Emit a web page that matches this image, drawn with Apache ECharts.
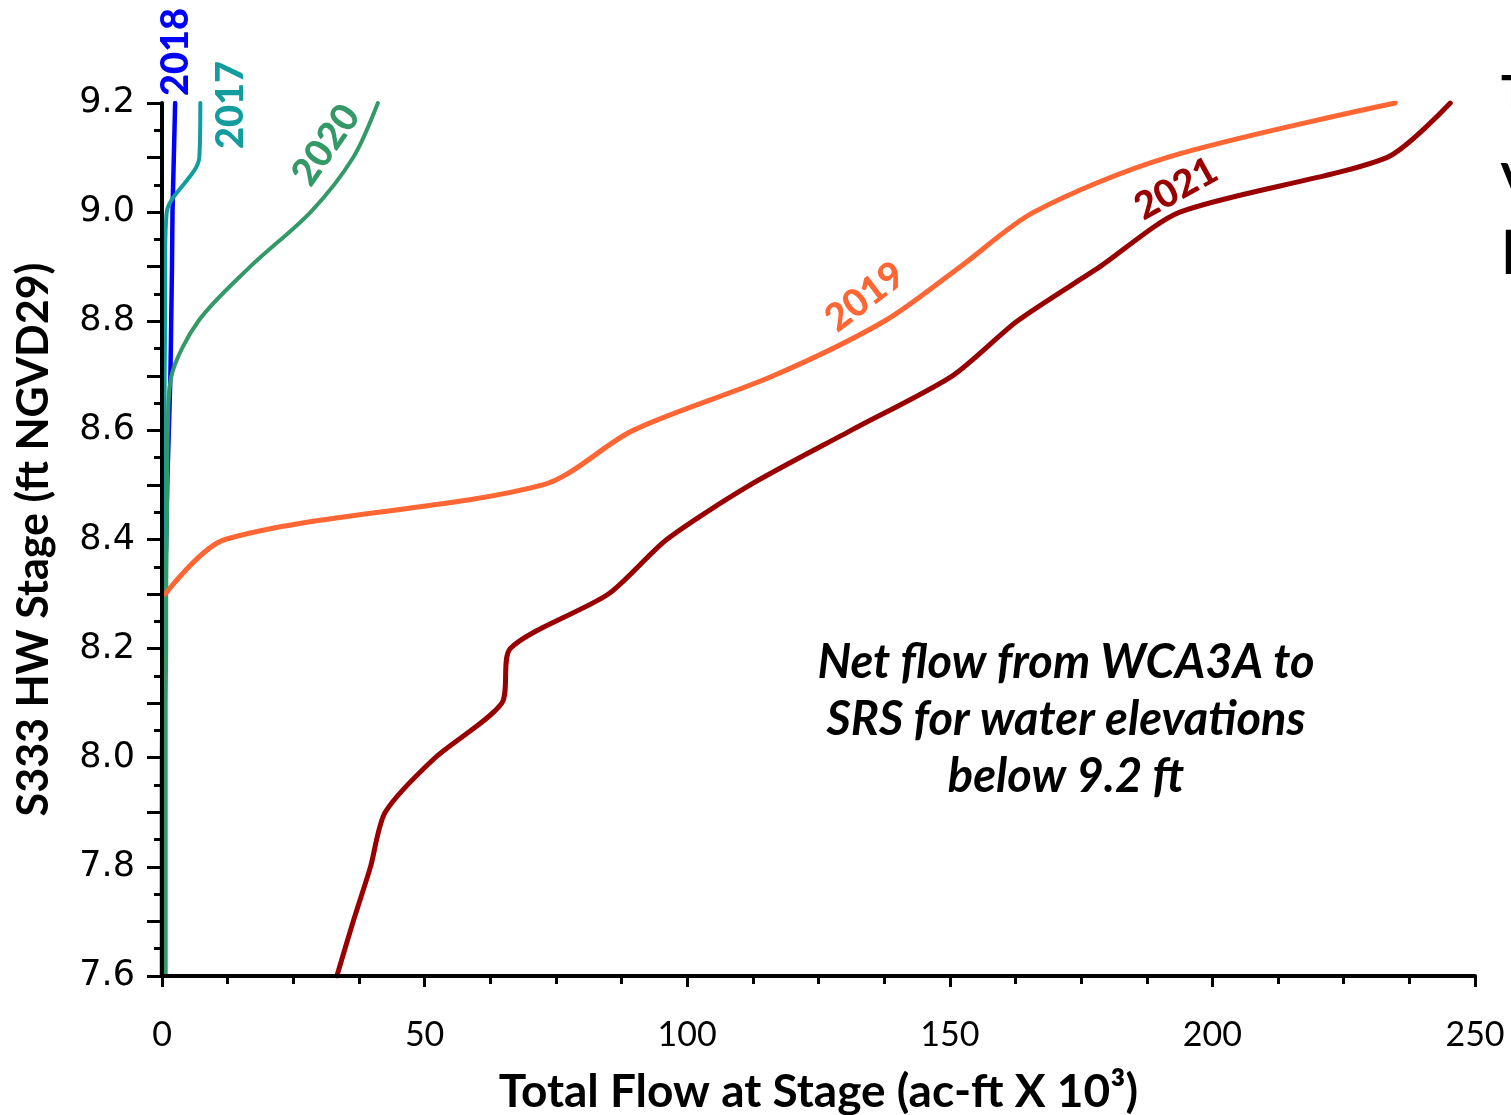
<!DOCTYPE html>
<html>
<head>
<meta charset="utf-8">
<script src="https://cdn.jsdelivr.net/npm/echarts@6/dist/echarts.min.js"></script>
<style>
html,body{margin:0;padding:0;background:#fff;}
#chart{width:1511px;height:1115px;}
</style>
</head>
<body>
<div id="chart"></div>
<script>
// Stage values (ft NGVD29)
const stages = [7.6, 7.7, 7.8, 7.9, 8.0, 8.1, 8.2, 8.3, 8.4, 8.5, 8.6, 8.7, 8.8, 8.9, 9.0, 9.1, 9.2];
// Total flow at stage (ac-ft x 10^3); null = no flow recorded on the curve
const flow2018 = [0, 0, 0, 0, 0, 0.1, 0.3, 0.5, 0.8, 1.0, 1.3, 1.6, 1.75, 1.9, 2.0, 2.25, 2.5];
const flow2017 = [0.4, 0.4, 0.4, 0.4, 0.4, 0.4, 0.5, 0.5, 0.5, 0.5, 0.5, 0.5, 0.6, 0.6, 0.9, 7.1, 7.3];
const flow2020 = [0.7, 0.7, 0.7, 0.7, 0.7, 0.7, 0.8, 0.8, 0.9, 1.0, 1.1, 1.8, 6.9, 16.8, 28.3, 36.4, 41.1];
const flow2019 = [null, null, null, null, null, null, null, 0.6, 12.0, 72.5, 89.7, 116.4, 137.5, 152.0, 166.0, 191.3, 234.8];
const flow2021 = [33.3, 36.4, 39.7, 42.5, 52.0, 64.7, 66.3, 85.0, 96.1, 112.0, 131.2, 150.5, 162.8, 178.6, 193.8, 233.2, 245.3];

const xTicks = [0, 50, 100, 150, 200, 250];
const yTickLabels = ['7.6', '7.8', '8.0', '8.2', '8.4', '8.6', '8.8', '9.0', '9.2'];

const years = ['2018', '2017', '2020', '2019', '2021'];
const flows = [flow2018, flow2017, flow2020, flow2019, flow2021];
const colors = ['#0000FF', '#129C9E', '#339966', '#FF6633', '#990000'];
const widths = [4.5, 4, 4, 5, 5];
const smoothing = [0.2, 0.3, 0.3, 0.3, 0.25];

const chart = echarts.init(document.getElementById('chart'));

const series = years.map((y, i) => ({
  name: y,
  type: 'line',
  data: stages.map((s, k) => [flows[i][k], s]).filter(p => p[0] !== null),
  showSymbol: false,
  smooth: smoothing[i],
  lineStyle: { color: colors[i], width: widths[i], cap: 'round', join: 'round' },
  itemStyle: { color: colors[i] },
  z: 2
}));

const labelFont = 'Lato, "Open Sans", sans-serif';

function txt(text, x, y, deg, color, size) {
  return {
    type: 'text', x: x, y: y, rotation: deg * Math.PI / 180, z: 10,
    style: {
      text: text, fill: color, fontFamily: labelFont, fontWeight: 900,
      fontSize: size, align: 'center', verticalAlign: 'middle'
    }
  };
}

const annot = txt('Net flow from WCA3A to\nSRS for water elevations\nbelow 9.2 ft', 1066, 720, 0, '#000', 47);
annot.style.fontStyle = 'italic';
annot.style.fontWeight = 'bold';
annot.style.lineHeight = 57;

const cutT = txt('T', 1501, 93, 0, '#000', 44); cutT.style.align = 'left';
const cutV = txt('V', 1501, 181, 0, '#000', 44); cutV.style.align = 'left';
const cutB = txt('[', 1502, 251, 0, '#000', 48); cutB.style.align = 'left';

chart.setOption({
  animation: false,
  backgroundColor: '#fff',
  grid: { left: 162, right: 36, top: 103, bottom: 139, containLabel: false, outerBoundsMode: 'none' },
  xAxis: {
    type: 'value',
    min: xTicks[0],
    max: xTicks[xTicks.length - 1],
    interval: 50,
    z: 5,
    name: 'Total Flow at Stage (ac-ft X 10³)',
    nameLocation: 'middle',
    nameGap: 93,
    nameTextStyle: { fontFamily: labelFont, fontWeight: 'bold', fontSize: 46, color: '#000' },
    axisLine: { show: true, onZero: false, lineStyle: { color: '#000', width: 4 } },
    axisTick: { show: true, inside: false, length: 11, lineStyle: { color: '#000', width: 3 } },
    minorTick: { show: true, splitNumber: 4, length: 8, lineStyle: { color: '#000', width: 3 } },
    splitLine: { show: false },
    minorSplitLine: { show: false },
    axisLabel: {
      fontFamily: labelFont, fontSize: 34, color: '#000', margin: 42,
      formatter: v => xTicks.includes(v) ? String(v) : ''
    }
  },
  yAxis: {
    type: 'value',
    min: 7.6,
    max: 9.2,
    interval: 0.1,
    z: 5,
    name: 'S333 HW Stage (ft NGVD29)',
    nameLocation: 'middle',
    nameGap: 106,
    nameRotate: 90,
    nameTextStyle: { fontFamily: labelFont, fontWeight: 'bold', fontSize: 43, color: '#000' },
    axisLine: { show: true, onZero: false, lineStyle: { color: '#000', width: 4 } },
    axisTick: { show: true, inside: false, length: 15, lineStyle: { color: '#000', width: 3 } },
    minorTick: { show: true, splitNumber: 2, length: 8, lineStyle: { color: '#000', width: 3 } },
    splitLine: { show: false },
    minorSplitLine: { show: false },
    axisLabel: {
      fontFamily: '"DejaVu Sans", Verdana, sans-serif', fontSize: 35, color: '#000', margin: 27,
      formatter: v => {
        const t = (Math.round(v * 10) / 10).toFixed(1);
        return yTickLabels.includes(t) ? t : '';
      }
    }
  },
  series: series,
  graphic: [
    txt('2018', 176, 52, 90, colors[0], 38),
    txt('2017', 231, 105, 90, colors[1], 38),
    txt('2020', 326, 145, 55, colors[2], 38),
    txt('2019', 865, 297, 37, colors[3], 38),
    txt('2021', 1176, 189, 29, colors[4], 38),
    annot, cutT, cutV, cutB
  ]
});
</script>
</body>
</html>
